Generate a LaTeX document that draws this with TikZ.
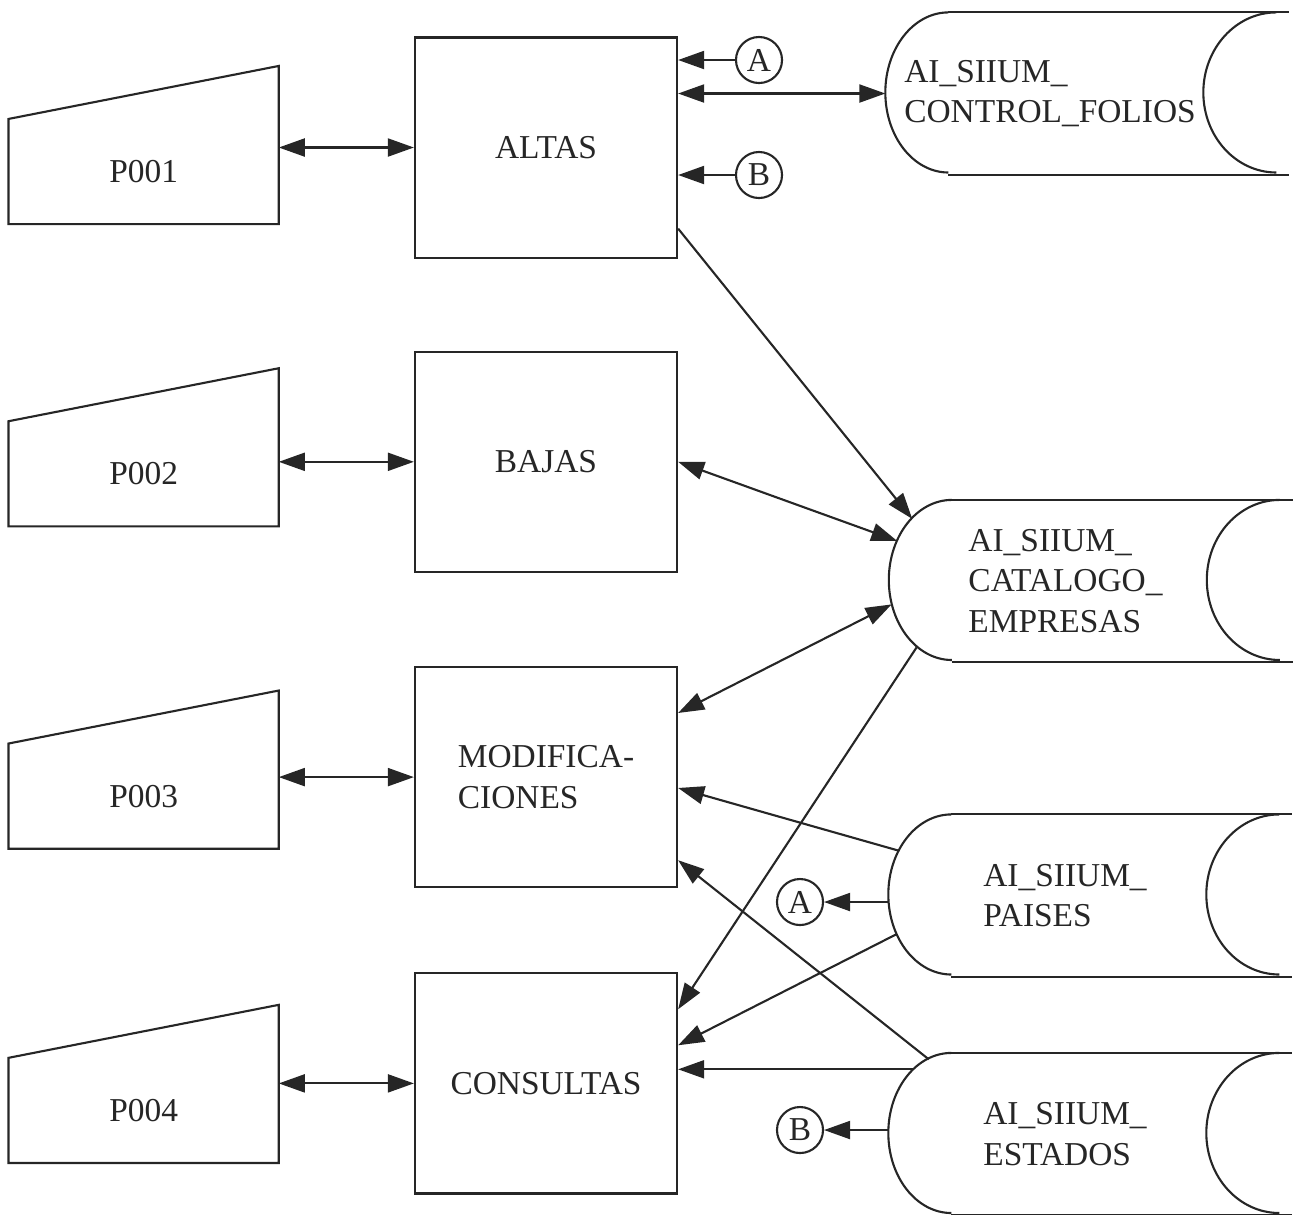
\documentclass[tikz,border=0pt]{standalone}
\usepackage{fontspec}
\setmainfont{Liberation Serif}
\usetikzlibrary{arrows.meta,positioning,calc}

% outline of a data store: round left end, hollow right end
\newcommand{\storeshape}[1]{%
  \draw ($(#1.north west)+(63,0)$) -- ($(#1.north west)+(404,0)$)
        ($(#1.south west)+(63,0)$) -- ($(#1.south west)+(404,0)$);
  \draw ($(#1.north west)+(63,0)$) arc[start angle=90, end angle=270, x radius=0.63cm, y radius=0.8cm];
  \draw ($(#1.north west)+(391,0)$) arc[start angle=90, end angle=270, x radius=0.73cm, y radius=0.8cm];
}
% outline of a screen (manual input)
\newcommand{\screenshape}[1]{%
  \draw (#1.north west) -- ($(#1.north east)+(0,53)$) -- (#1.south east) -- (#1.south west) -- cycle;
}

\begin{document}
\begin{tikzpicture}[
  x=0.01cm, y=0.01cm,
  font=\fontsize{9.5}{11.5}\selectfont,
  color=black!85,
  line width=0.6pt,
  proc/.style={
    draw,
    minimum width=2.62cm,
    minimum height=2.2cm,
    align=left
  },
  screen/.style={
    minimum width=2.68cm,
    minimum height=1.03cm,
    inner sep=0pt
  },
  store/.style={
    minimum width=3.51cm,
    minimum height=1.6cm,
    inner sep=0pt,
    align=left
  },
  conn/.style={draw, circle, minimum size=0.46cm, inner sep=0pt},
  arr/.style={-{Triangle[length=2.6mm,width=1.8mm]}},
  darr/.style={{Triangle[length=2.6mm,width=1.8mm]}-{Triangle[length=2.6mm,width=1.8mm]}}
]
\useasboundingbox (0,0) rectangle (1295,-1214);

\node[proc] (altas) at (546,-147.5) {ALTAS};
\node[proc, below=0.92cm of altas] (bajas) {BAJAS};
\node[proc, below=0.93cm of bajas] (modif) {MODIFICA-\\CIONES};
\node[proc, below=0.84cm of modif] (consultas) {CONSULTAS};

\node[screen, left=1.35cm of altas, yshift=-0.24cm] (p001) {P001};
\node[screen, left=1.35cm of bajas, yshift=-0.12cm] (p002) {P002};
\node[screen, left=1.35cm of modif, yshift=-0.19cm] (p003) {P003};
\node[screen, left=1.35cm of consultas, yshift=-0.27cm] (p004) {P004};
\foreach \s in {p001,p002,p003,p004} {\screenshape{\s}}

\node[store, minimum width=3.27cm] (folios) at (1050,-93.5) {AI\_SIIUM\_\\CONTROL\_FOLIOS};
\node[store] (catalogo) at (1065.5,-581) {AI\_SIIUM\_\\CATALOGO\_\\EMPRESAS};
\node[store] (paises) at (1065,-895.5) {AI\_SIIUM\_\\PAISES};
\node[store] (estados) at (1065,-1134) {AI\_SIIUM\_\\ESTADOS};
\foreach \s in {folios,catalogo,paises,estados} {\storeshape{\s}}

\node[conn] (circA1) at (759,-60) {A};
\node[conn] (circB1) at (759,-175) {B};
\node[conn] (circA2) at (800,-902) {A};
\node[conn] (circB2) at (800,-1130) {B};

% screens <-> processes
\draw[darr] (p001.east |- altas.west) -- (altas.west);
\draw[darr] (p002.east |- bajas.west) -- (bajas.west);
\draw[darr] (p003.east |- modif.west) -- (modif.west);
\draw[darr] (p004.east |- consultas.west) -- (consultas.west);

% altas
\draw[arr] (circA1) -- (circA1 -| altas.east);
\draw[arr] (circB1) -- (circB1 -| altas.east);
\draw[darr] (folios.west -| altas.east) -- (folios.west);
\draw[arr] ($(altas.south east)+(0,30)$) -- ($(catalogo.west)+(63,0)+(129:63 and 80)$);

% catalogo
\draw[darr] (bajas.east) -- ($(catalogo.west)+(63,0)+(150:63 and 80)$);
\draw[darr] ($(catalogo.west)+(63,0)+(197:63 and 80)$) -- ($(modif.north east)+(0,-47)$);
\draw[arr] ($(catalogo.west)+(63,0)+(236:63 and 80)$) -- ($(consultas.north east)+(0,-37)$);

% paises
\draw[arr] ($(paises.west)+(63,0)+(146:63 and 80)$) -- ($(modif.north east)+(0,-122)$);
\draw[arr] (circA2 -| paises.west) -- (circA2);
\draw[arr] ($(paises.west)+(63,0)+(209:63 and 80)$) -- ($(consultas.north east)+(0,-73)$);

% estados
\draw[arr] ($(estados.west)+(63,0)+(111:63 and 80)$) -- ($(modif.south east)+(0,28)$);
\coordinate (estOut) at ($(estados.west)+(63,0)+(126:63 and 80)$);
\draw[arr] (estOut) -- (estOut -| consultas.east);
\draw[arr] (circB2 -| estados.west) -- (circB2);

\end{tikzpicture}
\end{document}
